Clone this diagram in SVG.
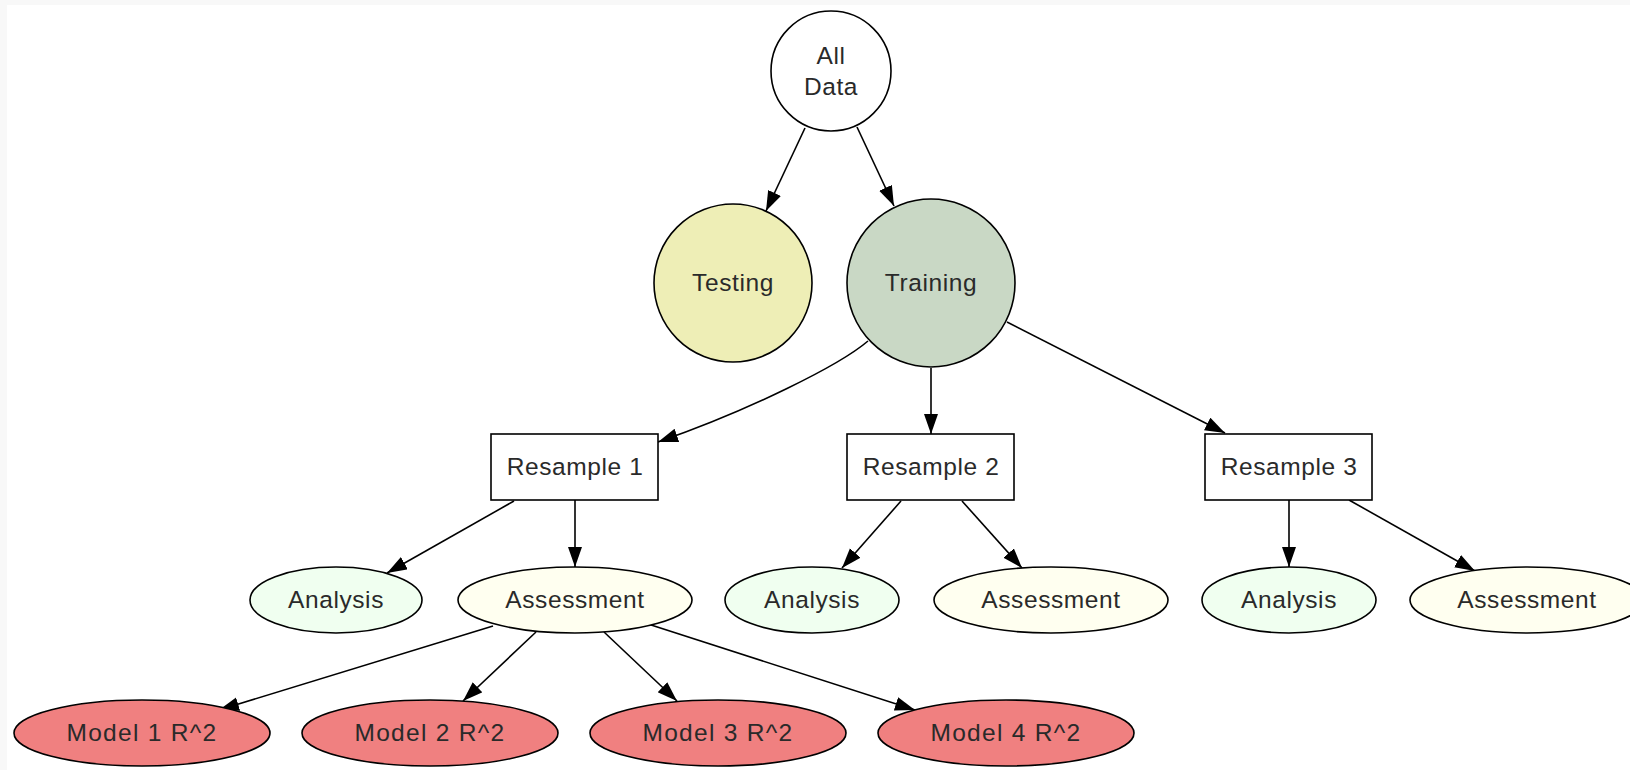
<svg xmlns="http://www.w3.org/2000/svg" width="1630" height="770" viewBox="0 0 1630 770">
<style>
.n{stroke:#000;stroke-width:1.6}
.t{font-family:"Liberation Sans",Arial,sans-serif;font-size:24.5px;fill:#2a2a2a;text-anchor:middle;letter-spacing:0.6px}
.m{letter-spacing:1.3px}
.e{fill:none;stroke:#000;stroke-width:1.6}
</style>
<defs>
<marker id="ah" markerUnits="userSpaceOnUse" markerWidth="22" markerHeight="16" refX="20" refY="7" orient="auto">
<path d="M0,0 L20,7 L0,14 z" fill="#000"/>
</marker>
</defs>
<rect x="0" y="0" width="1630" height="770" fill="#f8f8f8"/>
<rect x="7" y="5" width="1623" height="765" fill="#fff"/>
<g id="edges">
<path class="e" marker-end="url(#ah)" d="M805,128 L766,211"/>
<path class="e" marker-end="url(#ah)" d="M857,127 L894,206"/>
<path class="e" marker-end="url(#ah)" d="M868,341 C840,365 750,410 658,442"/>
<path class="e" marker-end="url(#ah)" d="M931,368 L931,434"/>
<path class="e" marker-end="url(#ah)" d="M1007,322 L1225,433"/>
<path class="e" marker-end="url(#ah)" d="M514,501 L387,573"/>
<path class="e" marker-end="url(#ah)" d="M575,500 L575,567"/>
<path class="e" marker-end="url(#ah)" d="M901,501 L842,568"/>
<path class="e" marker-end="url(#ah)" d="M962,501 L1022,568"/>
<path class="e" marker-end="url(#ah)" d="M1289,500 L1289,567"/>
<path class="e" marker-end="url(#ah)" d="M1349,500 L1475,571"/>
<path class="e" marker-end="url(#ah)" d="M493,626 L219,710"/>
<path class="e" marker-end="url(#ah)" d="M536,632 L463,701"/>
<path class="e" marker-end="url(#ah)" d="M604,632 L677,701"/>
<path class="e" marker-end="url(#ah)" d="M648,624 L915,710"/>
</g>
<g id="alldata"><circle class="n" cx="831" cy="71" r="60" fill="#fff"/><text class="t" x="831" y="64">All</text><text class="t" x="831" y="95">Data</text></g>
<g id="testing"><circle class="n" cx="733" cy="283" r="79" fill="#EEEEB6"/><text class="t" x="733" y="291">Testing</text></g>
<g id="training"><circle class="n" cx="931" cy="283" r="84" fill="#C9D8C5"/><text class="t" x="931" y="291">Training</text></g>
<g id="resample1"><rect class="n" x="491" y="434" width="167" height="66" fill="#fff"/><text class="t" x="575" y="475">Resample 1</text></g>
<g id="resample2"><rect class="n" x="847" y="434" width="167" height="66" fill="#fff"/><text class="t" x="931" y="475">Resample 2</text></g>
<g id="resample3"><rect class="n" x="1205" y="434" width="167" height="66" fill="#fff"/><text class="t" x="1289" y="475">Resample 3</text></g>
<g id="analysis1"><ellipse class="n" cx="336" cy="600" rx="86" ry="33" fill="#F0FFF0"/><text class="t" x="336" y="608">Analysis</text></g>
<g id="assessment1"><ellipse class="n" cx="575" cy="600" rx="117" ry="33" fill="#FFFFF0"/><text class="t" x="575" y="608">Assessment</text></g>
<g id="analysis2"><ellipse class="n" cx="812" cy="600" rx="87" ry="33" fill="#F0FFF0"/><text class="t" x="812" y="608">Analysis</text></g>
<g id="assessment2"><ellipse class="n" cx="1051" cy="600" rx="117" ry="33" fill="#FFFFF0"/><text class="t" x="1051" y="608">Assessment</text></g>
<g id="analysis3"><ellipse class="n" cx="1289" cy="600" rx="87" ry="33" fill="#F0FFF0"/><text class="t" x="1289" y="608">Analysis</text></g>
<g id="assessment3"><ellipse class="n" cx="1527" cy="600" rx="117" ry="33" fill="#FFFFF0"/><text class="t" x="1527" y="608">Assessment</text></g>
<g id="model1"><ellipse class="n" cx="142" cy="733" rx="128" ry="33" fill="#F08080"/><text class="t m" x="142" y="741">Model 1 R^2</text></g>
<g id="model2"><ellipse class="n" cx="430" cy="733" rx="128" ry="33" fill="#F08080"/><text class="t m" x="430" y="741">Model 2 R^2</text></g>
<g id="model3"><ellipse class="n" cx="718" cy="733" rx="128" ry="33" fill="#F08080"/><text class="t m" x="718" y="741">Model 3 R^2</text></g>
<g id="model4"><ellipse class="n" cx="1006" cy="733" rx="128" ry="33" fill="#F08080"/><text class="t m" x="1006" y="741">Model 4 R^2</text></g>
</svg>
